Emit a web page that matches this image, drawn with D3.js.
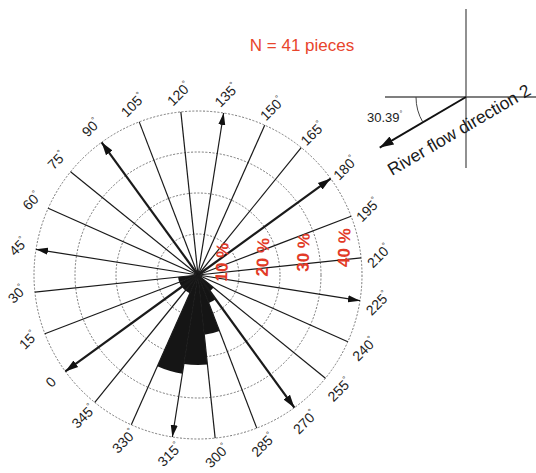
<!DOCTYPE html>
<html><head><meta charset="utf-8">
<script src="https://cdn.jsdelivr.net/npm/d3@7"></script>
<style>body{margin:0;background:#fff}svg{display:block}</style>
</head><body><svg id="c" width="536" height="473"></svg>
<script>
// ---- data ----
const angleLabels = [0,15,30,45,60,75,90,105,120,135,150,165,180,195,210,225,240,255,270,285,300,315,330,345];
const arrowAngles = [45,135,225,315];
const thickArrowAngles = [0,90,180,270];
const binStarts = [0,15,330,345,255,270,285,300,315];
const binPieces = [2,2,2,2,2,3,6,9,10];
const totalPieces = 41;
const ringPercents = [10,20,30,40];
const ringLabels = ["10 %","20 %","30 %","40 %"];
const title = "N = 41 pieces";
const flowAngle = 30.39;
const flowLabel = "River flow direction 2";

// ---- layout ----
const svg = d3.select("#c");
const cx = 198, cy = 275, R = 164, rot = -126;
const r = d3.scaleLinear().domain([0,40]).range([0,R]);
const rad = d => (d + rot) * Math.PI / 180;
const pt = (deg, rr) => [cx + rr*Math.sin(rad(deg)), cy - rr*Math.cos(rad(deg))];
const g = svg.append("g");
const FONT = "Liberation Sans, Arial, sans-serif";

// arrow markers
const defs = svg.append("defs");
function marker(id, w, l){
  defs.append("marker").attr("id",id).attr("markerUnits","userSpaceOnUse")
    .attr("markerWidth",l+2).attr("markerHeight",w+2).attr("viewBox",`0 ${-w/2-1} ${l+2} ${w+2}`)
    .attr("refX",l).attr("refY",0).attr("orient","auto")
    .append("path").attr("d",`M0,${-w/2}L${l},0L0,${w/2}Z`).attr("fill","#111");
}
marker("ah",7,12); marker("ahT",8,13); marker("ahF",9,14);

// rings
g.selectAll(".ring").data(ringPercents).join("circle")
  .attr("cx",cx).attr("cy",cy).attr("r",d=>r(d))
  .attr("fill","none").attr("stroke","#777").attr("stroke-width",1).attr("stroke-dasharray","2,1.6");

// petals
const arc = d3.arc().innerRadius(0);
g.selectAll(".petal").data(binStarts.map((b,i)=>({b, p: binPieces[i]/totalPieces*100})))
  .join("path")
  .attr("transform",`translate(${cx},${cy})`)
  .attr("d",d=>arc({outerRadius:r(d.p), startAngle:rad(d.b), endAngle:rad(d.b+15)}))
  .attr("fill","#151515");

// radial lines
g.selectAll(".ray").data(angleLabels).join("line")
  .attr("x1",cx).attr("y1",cy)
  .attr("x2",d=>pt(d,R)[0]).attr("y2",d=>pt(d,R)[1])
  .attr("stroke","#1a1a1a")
  .attr("stroke-width",d=>thickArrowAngles.includes(d)?2.2:1.2)
  .attr("marker-end",d=>thickArrowAngles.includes(d)?"url(#ahT)":arrowAngles.includes(d)?"url(#ah)":null);

// angle labels
const lab = g.selectAll(".alab").data(angleLabels).join("text")
  .attr("transform",d=>{const p=pt(d,182);return `translate(${p[0]},${p[1]}) rotate(-45)`;})
  .attr("text-anchor","middle").attr("dy","0.35em")
  .attr("font-family",FONT).attr("font-size",14).attr("fill","#222");
lab.append("tspan").text(d=>d);
lab.filter(d=>d!==0).append("tspan").text("°").attr("font-size",8).attr("dy",-6);

// ring labels
g.selectAll(".rlab").data(ringPercents).join("text")
  .attr("transform",(d,i)=>{const dd=r(d)-17;const a=6.8*Math.PI/180;
     return `translate(${cx+dd*Math.cos(a)},${cy-10-dd*Math.sin(a)}) rotate(-88)`;})
  .attr("text-anchor","middle").attr("dy","0.35em")
  .attr("font-family",FONT).attr("font-weight","bold")
  .attr("font-size",17).attr("fill","#e23a27")
  .text((d,i)=>ringLabels[i]);

// title
svg.append("text").attr("x",302).attr("y",51).attr("text-anchor","middle")
  .attr("font-family",FONT).attr("font-size",17)
  .attr("fill","#e8452c").text(title);

// inset: river flow direction
const ox = 466, oy = 97;
const ins = svg.append("g").attr("stroke","#555").attr("stroke-width",1.3);
ins.append("line").attr("x1",ox).attr("y1",9).attr("x2",ox).attr("y2",168);
ins.append("line").attr("x1",385).attr("y1",oy).attr("x2",536).attr("y2",oy);
const fa = flowAngle*Math.PI/180, fl = 100;
svg.append("line").attr("x1",ox).attr("y1",oy)
  .attr("x2",ox - fl*Math.cos(fa)).attr("y2",oy + fl*Math.sin(fa))
  .attr("stroke","#111").attr("stroke-width",2).attr("marker-end","url(#ahF)");
const ar = 50;
svg.append("path")
  .attr("d",`M${ox-ar},${oy} A${ar},${ar} 0 0 0 ${ox-ar*Math.cos(fa)},${oy+ar*Math.sin(fa)}`)
  .attr("fill","none").attr("stroke","#444").attr("stroke-width",1);
const at = svg.append("text").attr("x",367).attr("y",122)
  .attr("font-family",FONT).attr("font-size",13).attr("fill","#222");
at.append("tspan").text(flowAngle.toFixed(2));
at.append("tspan").text("°").attr("font-size",7).attr("dy",-6);
svg.append("text").attr("transform",`translate(392,176) rotate(${-flowAngle})`)
  .attr("font-family",FONT).attr("font-size",17.5).attr("fill","#1a1a1a")
  .text(flowLabel);
</script></body></html>
